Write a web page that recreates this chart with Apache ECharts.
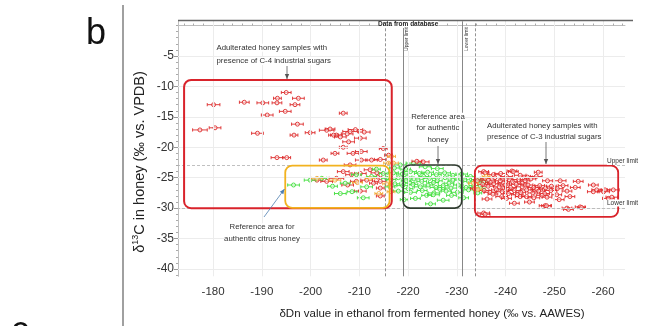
<!DOCTYPE html>
<html><head><meta charset="utf-8">
<script src="https://cdn.jsdelivr.net/npm/echarts@6/dist/echarts.min.js"></script>
<style>html,body{margin:0;padding:0;background:#fff}#c{width:657px;height:326px}</style>
</head><body><div id="c"></div>
<script>
// ---- axis ticks ----
const xTickLabels = [-180,-190,-200,-210,-220,-230,-240,-250,-260];
const xMinorTicks = [-174,-176,-178,-182,-184,-186,-188,-192,-194,-196,-198,-202,-204,-206,-208,-212,-214,-216,-218,-222,-224,-226,-228,-232,-234,-236,-238,-242,-244,-246,-248,-252,-254,-256,-258,-262,-264];
const yTickLabels = [-5,-10,-15,-20,-25,-30,-35,-40];
const yMinorTicks = [0,-1,-2,-3,-4,-6,-7,-8,-9,-11,-12,-13,-14,-16,-17,-18,-19,-21,-22,-23,-24,-26,-27,-28,-29,-31,-32,-33,-34,-36,-37,-38,-39,-41];

// ---- data: [deltaD, delta13C, horizontal error] ----
const redC4 = [
[-177.3,-17.15,1.5],[-180.1,-13.0,1.3],[-180.4,-16.8,1.2],[-186.4,-12.6,1.0],[-190.2,-12.7,1.2],[-193.1,-12.7,1.0],
[-193.2,-11.95,0.8],[-195.0,-11.0,1.0],[-197.5,-11.95,1.2],[-196.8,-13.0,1.0],[-194.8,-14.1,1.2],[-191.1,-14.7,1.2],
[-189.1,-17.7,1.2],[-197.3,-16.2,1.2],[-196.6,-18.0,0.8],[-199.9,-17.6,1.0],[-203.3,-17.2,1.5],[-204.0,-17.0,1.0],
[-205.3,-18.0,1.2],[-206.7,-14.4,0.8],[-204.7,-18.0,1.0],[-206.1,-18.3,1.2],[-208.1,-17.4,1.5],[-210.2,-18.5,1.2],
[-207.8,-19.1,1.2],[-206.7,-20.0,0.8],[-208.7,-21.0,1.2],[-210.4,-20.7,1.2],[-205.0,-21.0,0.8],[-193.1,-21.7,1.2],
[-195.1,-21.7,0.8],[-202.6,-22.1,0.8],[-208.1,-22.9,1.2],[-210.4,-22.1,1.2],[-212.5,-22.1,1.2],[-214.3,-22.0,1.2],
[-214.9,-20.2,0.8],[-216.0,-21.3,0.8],[-209.2,-17.1,1.5],[-211.0,-17.5,1.2],[-207.5,-17.8,1.2],
[-206.7,-24.0,1.2],[-208.4,-24.5,1.2],[-210.2,-24.3,1.2],[-212.2,-23.7,1.2],[-213.6,-24.2,1.2],[-211.5,-25.4,1.2],
[-203.3,-25.6,1.2],[-205.3,-25.1,1.5],[-201.3,-25.4,1.2],[-210.2,-27.2,1.2],[-214.3,-26.7,0.8],[-214.3,-28.0,0.8],
[-214.3,-25.6,1.2],[-209.4,-25.6,1.2],[-213.8,-24.9,0.8],[-212.9,-25.9,0.8],[-207.6,-26.2,1.2]
];
const redC3 = [
[-235.5,-24.0,1.0],[-235.8,-24.2,0.8],[-237.5,-24.5,1.2],[-239.0,-24.3,1.2],[-241.3,-23.9,1.0],[-241.6,-24.0,1.0],
[-243.0,-24.6,1.2],[-246.7,-24.1,0.8],[-246.3,-24.8,1.2],[-244.5,-24.9,1.0],[-240.2,-24.8,1.2],
[-235.8,-25.1,1.0],[-236.5,-25.4,1.2],[-237.8,-25.0,1.2],[-238.9,-25.5,1.0],[-240.1,-25.2,1.2],[-241.4,-25.6,1.0],
[-242.7,-25.3,1.2],[-244.0,-25.5,1.0],[-245.2,-25.2,1.0],[-248.6,-25.5,1.0],[-251.2,-25.5,1.2],[-254.9,-25.6,1.0],
[-236.9,-25.8,1.0],[-239.6,-25.9,1.2],[-243.4,-25.9,1.0],
[-235.3,-26.1,1.0],[-236.4,-26.4,1.2],[-237.6,-26.0,1.0],[-238.7,-26.5,1.2],[-239.9,-26.2,1.0],[-241.0,-26.6,1.2],
[-242.2,-26.1,1.0],[-243.4,-26.5,1.2],[-244.6,-26.2,1.0],[-245.8,-26.6,1.2],[-247.0,-26.3,1.0],[-248.2,-26.7,1.2],
[-249.4,-26.4,1.0],[-250.6,-26.8,1.2],[-254.3,-26.6,1.0],[-258.0,-26.2,1.0],[-251.8,-26.3,1.0],[-240.5,-26.9,1.2],
[-246.4,-26.9,1.2],
[-235.6,-27.1,1.0],[-236.8,-27.4,1.2],[-238.1,-27.0,1.0],[-239.3,-27.3,1.2],[-240.6,-27.6,1.0],[-241.8,-27.1,1.2],
[-243.1,-27.4,1.0],[-244.3,-27.0,1.2],[-245.6,-27.5,1.0],[-246.8,-27.2,1.2],[-248.0,-27.6,1.0],[-249.3,-27.1,1.2],
[-250.5,-27.8,1.0],[-252.6,-27.2,1.0],[-258.0,-27.3,1.2],[-258.7,-27.0,1.0],[-260.1,-27.3,1.2],[-260.4,-27.0,1.0],
[-262.1,-27.0,1.2],[-247.5,-27.9,1.2],[-242.4,-27.8,1.2],[-237.4,-27.7,1.0],
[-239.2,-28.1,1.2],[-240.2,-28.4,1.0],[-243.0,-28.1,1.0],[-244.3,-28.1,1.0],[-245.8,-28.3,1.2],[-248.5,-28.2,1.0],
[-253.2,-28.1,1.0],[-261.1,-28.4,1.2],[-261.8,-28.2,1.2],[-236.2,-28.5,1.0],[-251.0,-28.6,1.0],
[-248.1,-29.6,1.2],[-248.4,-29.6,1.0],[-252.6,-30.0,1.0],[-252.9,-30.2,1.0],[-255.3,-29.8,1.0],[-255.6,-29.9,0.8],
[-235.5,-30.8,1.2],[-235.8,-31.0,1.0],[-241.8,-29.2,1.0],[-244.9,-29.0,1.0],
[-223.1,-22.4,1.2],[-221.8,-22.3,1.0],[-233.6,-26.8,0.8],[-234.2,-25.5,0.8]
];
const greenAuthentic = [
[-196.5,-26.2,1.2],[-199.9,-25.4,1.2],[-202.3,-25.1,1.0],[-206.1,-27.6,1.2],[-207.1,-25.9,1.0],[-209.4,-24.5,1.0],
[-211.5,-26.5,1.2],[-212.5,-24.8,1.0],[-214.9,-24.3,0.8],[-215.6,-25.1,1.0],[-216.3,-26.5,1.0],[-213.5,-23.6,0.8],
[-210.8,-28.3,1.2],[-208.5,-27.3,1.0],[-204.5,-26.4,1.0],
[-218.4,-22.9,1.2],[-221.1,-22.6,1.5],[-223.5,-23.2,1.2],[-226.0,-23.5,1.2],[-219.5,-23.6,1.0],[-217.2,-23.4,1.0],
[-217.0,-24.2,1.0],[-218.8,-24.4,1.2],[-220.5,-24.0,1.2],[-222.3,-24.3,1.0],[-224.0,-24.1,1.2],[-225.8,-24.5,1.0],
[-227.5,-24.2,1.2],[-229.2,-24.6,1.0],[-231.0,-24.4,1.2],[-232.8,-24.8,1.0],[-219.8,-24.9,1.0],[-223.2,-24.8,1.0],
[-216.5,-25.3,1.0],[-218.0,-25.0,1.2],[-219.6,-25.5,1.0],[-221.2,-25.2,1.2],[-222.8,-25.6,1.0],[-224.4,-25.1,1.2],
[-226.0,-25.5,1.0],[-227.6,-25.0,1.2],[-229.2,-25.4,1.0],[-230.8,-25.2,1.2],[-232.4,-25.6,1.0],[-234.0,-25.3,1.0],
[-235.5,-25.7,0.8],[-220.4,-25.9,1.0],[-225.2,-25.8,1.0],[-228.4,-25.9,1.0],
[-217.3,-26.0,1.0],[-218.9,-26.3,1.2],[-221.0,-26.1,1.0],[-222.5,-26.5,1.2],[-224.1,-26.2,1.0],[-225.7,-26.6,1.2],
[-227.2,-26.3,1.0],[-228.8,-26.7,1.2],[-230.3,-26.2,1.0],[-231.9,-26.6,1.2],[-233.5,-26.3,1.0],[-235.0,-26.8,0.8],
[-226.5,-26.9,1.0],[-220.0,-26.8,1.0],
[-218.0,-27.2,1.0],[-220.5,-27.4,1.2],[-222.9,-27.1,1.0],[-225.3,-27.5,1.2],[-227.8,-27.2,1.0],[-230.1,-27.4,1.2],
[-232.4,-27.0,1.0],[-234.3,-27.5,0.8],[-223.8,-27.9,1.0],[-228.9,-27.9,1.0],
[-225.2,-27.8,1.2],[-227.2,-28.7,1.2],[-221.5,-28.4,1.0],[-231.4,-28.3,1.0],[-219.2,-28.6,0.8],[-224.6,-29.3,1.0]
];
const citrus = [
[-201.3,-25.1,1.2],[-205.0,-25.4,1.2],[-212.2,-25.1,1.0],[-216.0,-22.6,1.0],[-216.6,-21.5,0.8],[-217.0,-22.6,1.0],
[-215.6,-26.0,0.8],[-216.5,-27.3,0.8],[-233.4,-25.9,1.0],[-234.3,-26.9,0.8],[-209.6,-25.8,1.0],[-214.0,-27.6,0.8],
[-236.0,-24.8,0.8]
];
// ---- reference regions [x1, y1, x2, y2] and limits ----
const boxC4 = [-174.05,-8.94,-216.65,-30.0];
const boxCitrus = [-194.8,-23.0,-216.2,-29.97];
const boxAuthentic = [-219.0,-22.9,-231.0,-30.0];
const boxC3 = [-233.7,-23.0,-263.1,-31.45];
const limitSolidX = [-219.0,-231.1];
const limitDashedX = [-215.3,-233.8];
const limitY = [-22.9,-30.0];

const chart = echarts.init(document.getElementById('c'), null, {renderer:'canvas'});
const FONT = "'Liberation Sans', Arial, sans-serif";

function errRender(color){
  return function(params, api){
    const x = api.value(0), y = api.value(1), e = api.value(2);
    const c = api.coord([x,y]), a = api.coord([x-e,y]), b = api.coord([x+e,y]);
    const st = {stroke:color, lineWidth:0.9, fill:null};
    return {type:'group', children:[
      {type:'line', shape:{x1:a[0],y1:c[1],x2:b[0],y2:c[1]}, style:st},
      {type:'line', shape:{x1:a[0],y1:c[1]-1.6,x2:a[0],y2:c[1]+1.6}, style:st},
      {type:'line', shape:{x1:b[0],y1:c[1]-1.6,x2:b[0],y2:c[1]+1.6}, style:st},
      {type:'circle', shape:{cx:c[0],cy:c[1],r:2}, style:{stroke:color,lineWidth:0.9,fill:'rgba(255,255,255,0.5)'}}
    ]};
  };
}
function boxRender(color, w){
  return function(params, api){
    const p1 = api.coord([api.value(0), api.value(1)]);
    const p2 = api.coord([api.value(2), api.value(3)]);
    return {type:'rect', shape:{x:Math.min(p1[0],p2[0]), y:Math.min(p1[1],p2[1]),
      width:Math.abs(p2[0]-p1[0]), height:Math.abs(p2[1]-p1[1]), r:7},
      style:{stroke:color, lineWidth:w, fill:null}};
  };
}
function errSeries(name, data, color){
  return {name, type:'custom', renderItem:errRender(color), data, encode:{x:0,y:1}, clip:true, z:3};
}
function boxSeries(name, box, color, w){
  return {name, type:'custom', renderItem:boxRender(color,w), data:[box], encode:{x:[0,2],y:[1,3]}, z:5, silent:true};
}
function arrowHead(x, y, ang, color){
  const L=5, W=2.2;
  const bx = x - L*Math.cos(ang), by = y - L*Math.sin(ang);
  const nx = -Math.sin(ang)*W, ny = Math.cos(ang)*W;
  return {type:'polygon', z:100, shape:{points:[[x,y],[bx+nx,by+ny],[bx-nx,by-ny]]}, style:{fill:color}};
}
function arrow(x1,y1,x2,y2,color){
  const ang = Math.atan2(y2-y1, x2-x1);
  return [{type:'line', z:100, shape:{x1,y1,x2,y2}, style:{stroke:color, lineWidth:0.8}}, arrowHead(x2,y2,ang,color)];
}
function txt(x,y,text,size,opts){
  return Object.assign({type:'text', x, y, z:100, style:Object.assign({text, fontSize:size, fontFamily:FONT, fill:'#333',
    align:'left', verticalAlign:'middle', backgroundColor:'#fff'}, opts && opts.style || {})}, opts && opts.el || {});
}

const xMin = -264.5, xMax = -172.8, yMin = -41.2, yMax = 0.7;
const axisGray = '#bfbfbf';

const option = {
  animation:false,
  backgroundColor:'#fff',
  grid:{left:178, right:32, top:21.3, bottom:49.7, containLabel:false},
  xAxis:[{
    type:'value', min:xMin, max:xMax, inverse:true, position:'bottom',
    axisLine:{lineStyle:{color:axisGray, width:1}},
    axisTick:{show:true, inside:true, length:4, lineStyle:{color:'#999'}, customValues:xTickLabels},
    axisLabel:{customValues:xTickLabels, color:'#333', fontSize:11.5, fontFamily:FONT, margin:10},
    splitLine:{show:false}
  },{
    type:'value', min:xMin, max:xMax, inverse:true, position:'bottom',
    axisLine:{show:false}, axisLabel:{show:false}, splitLine:{show:false},
    axisTick:{show:true, inside:true, length:2, lineStyle:{color:'#aaa'}, customValues:xMinorTicks}
  }],
  yAxis:[{
    type:'value', min:yMin, max:yMax, position:'left',
    axisLine:{show:true, lineStyle:{color:axisGray, width:1}},
    axisTick:{show:true, length:4, lineStyle:{color:'#999'}, customValues:yTickLabels},
    axisLabel:{customValues:yTickLabels, color:'#333', fontSize:12, fontFamily:FONT, margin:4},
    splitLine:{show:false}
  },{
    type:'value', min:yMin, max:yMax, position:'left',
    axisLine:{show:false}, axisLabel:{show:false}, splitLine:{show:false},
    axisTick:{show:true, length:2, lineStyle:{color:'#aaa'}, customValues:yMinorTicks}
  }],
  series:[
    {type:'line', data:[], silent:true, xAxisIndex:0, yAxisIndex:0,
      markLine:{silent:true, symbol:'none', label:{show:false}, animation:false,
        data:[
          ...xTickLabels.map(v=>({xAxis:v, lineStyle:{color:'#ececec', width:1, type:'solid'}})),
          ...yTickLabels.map(v=>({yAxis:v, lineStyle:{color:'#ececec', width:1, type:'solid'}})),
          ...limitY.map(v=>({yAxis:v, lineStyle:{color:'#b0b0b0', width:0.8, type:[3,2]}})),
          ...limitDashedX.map(v=>({xAxis:v, lineStyle:{color:'#777', width:0.8, type:[3,2]}})),
          ...limitSolidX.map(v=>({xAxis:v, lineStyle:{color:'#888', width:1, type:'solid'}}))
        ]}},
    errSeries('C-4 adulterated', redC4, '#dc2a2a'),
    errSeries('Authentic', greenAuthentic, '#3ede3a'),
    errSeries('C-3 adulterated', redC3, '#e02828'),
    errSeries('Citrus', citrus, '#f0a832'),
    boxSeries('box C4', boxC4, '#d9232b', 2),
    boxSeries('box citrus', boxCitrus, '#f2b21f', 1.8),
    boxSeries('box authentic', boxAuthentic, '#2f3b2f', 1.6),
    boxSeries('box C3', boxC3, '#d9232b', 1.8)
  ],
  graphic:{elements:[
    {type:'line', shape:{x1:123,y1:5,x2:123,y2:326}, style:{stroke:'#a0a0a0', lineWidth:2}},
    {type:'text', x:86, y:34, style:{text:'b', fontSize:36, fontFamily:FONT, fill:'#111', verticalAlign:'middle'}},
    {type:'text', x:11, y:332, style:{text:'c', fontSize:36, fontFamily:FONT, fill:'#111', verticalAlign:'middle'}},
    {type:'line', z:100, shape:{x1:178,y1:20.5,x2:633,y2:20.5}, style:{stroke:'#666', lineWidth:1.5}},
    txt(378,24.5,'Data from database',6.5,{style:{fontWeight:'bold', fill:'#222'}}),
    txt(407,39,'Upper limit',5,{style:{align:'center'}, el:{rotation:Math.PI/2}}),
    txt(467,39,'Lower limit',5,{style:{align:'center'}, el:{rotation:Math.PI/2}}),
    txt(607,161.5,'Upper limit',6.5,{}),
    txt(607,203,'Lower limit',6.5,{}),
    txt(216.5,47.7,'Adulterated honey samples with',7.8,{}),
    txt(216.5,61,'presence of C-4 industrial sugars',7.8,{}),
    ...arrow(287,66,287,79,'#555'),
    txt(262,227.3,'Reference area for',7.8,{style:{align:'center'}}),
    txt(262,238.6,'authentic citrus honey',7.8,{style:{align:'center'}}),
    ...arrow(264,217,284.5,189,'#4f7fb0'),
    txt(438,116.7,'Reference area',7.8,{style:{align:'center'}}),
    txt(438,128.3,'for authentic',7.8,{style:{align:'center'}}),
    txt(438,140,'honey',7.8,{style:{align:'center'}}),
    ...arrow(438,146,438,164,'#555'),
    txt(487,126,'Adulterated honey samples with',7.8,{}),
    txt(487,136.7,'presence of C-3 industrial sugars',7.8,{}),
    ...arrow(546,142,546,164,'#555'),
    {type:'text', x:140, y:162, rotation:Math.PI/2, style:{
      text:'{a|δ}{s|13}{a|C in honey (‰ vs. VPDB)}', align:'center', verticalAlign:'middle',
      rich:{a:{fontSize:14.5, fontFamily:FONT, fill:'#222', lineHeight:18}, s:{fontSize:9, fontFamily:FONT, fill:'#222', verticalAlign:'top', lineHeight:18, padding:[0,0,7,0]}}}},
    {type:'text', x:432, y:314, style:{text:'δDn value in ethanol from fermented honey (‰ vs. AAWES)', fontSize:11.5,
      fontFamily:FONT, fill:'#222', align:'center', verticalAlign:'middle'}}
  ]}
};
chart.setOption(option);
</script></body></html>
